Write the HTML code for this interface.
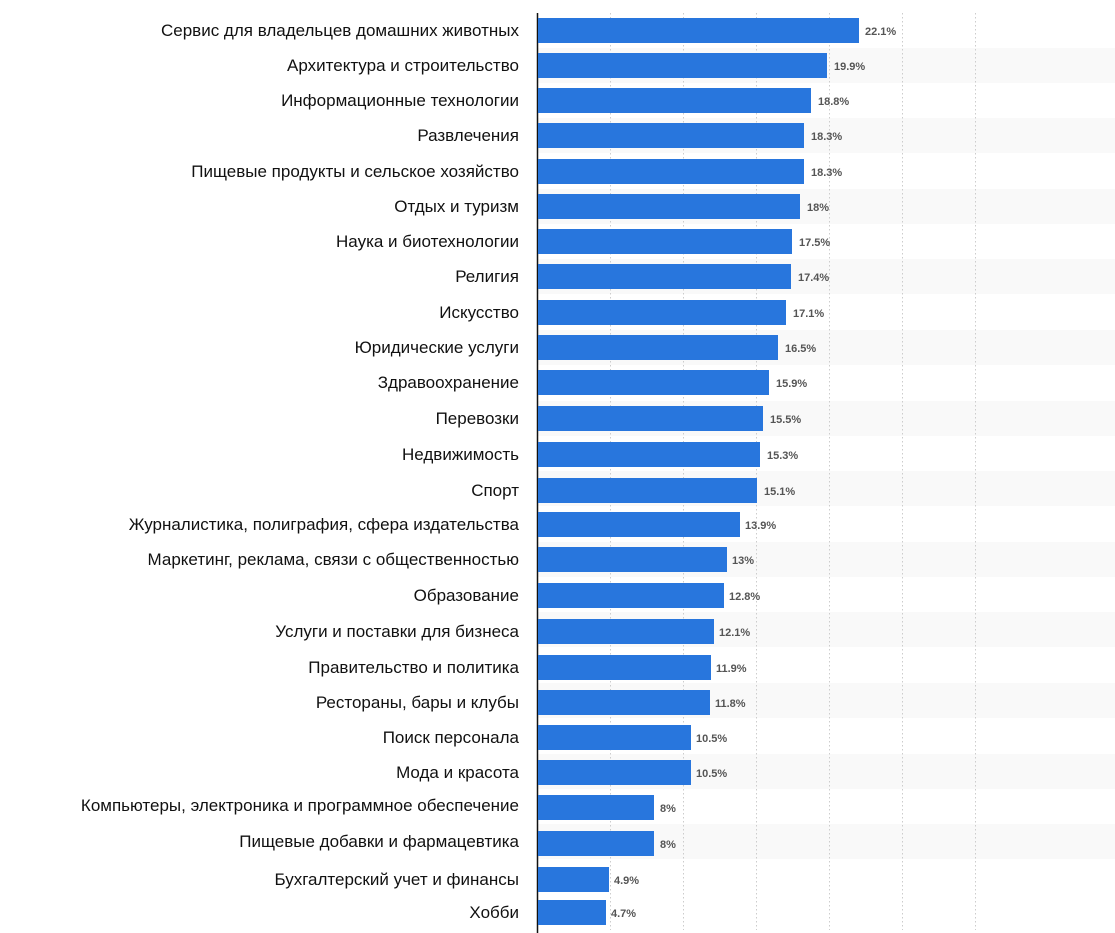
<!DOCTYPE html>
<html><head><meta charset="utf-8"><style>
body{margin:0;background:#fff;width:1115px;height:933px;overflow:hidden}
svg{display:block}
.l{font-family:"Liberation Sans","Noto Sans CJK SC",sans-serif;font-size:17px;fill:#111;text-anchor:end}
.v{font-family:"Liberation Sans",sans-serif;font-size:11px;font-weight:bold;fill:#555}
</style></head><body>
<svg width="1115" height="933" xmlns="http://www.w3.org/2000/svg">
<g fill="#f9f9f9">
<rect x="538" y="48" width="577" height="35"/><rect x="538" y="118" width="577" height="35"/><rect x="538" y="189" width="577" height="35"/><rect x="538" y="259" width="577" height="35"/><rect x="538" y="330" width="577" height="35"/><rect x="538" y="401" width="577" height="35"/><rect x="538" y="471" width="577" height="35"/><rect x="538" y="542" width="577" height="35"/><rect x="538" y="612" width="577" height="35"/><rect x="538" y="683" width="577" height="35"/><rect x="538" y="754" width="577" height="35"/><rect x="538" y="824" width="577" height="35"/>
</g>
<g stroke="#cccccc" stroke-dasharray="1.5,2.5" stroke-width="1">
<line x1="610.5" y1="13" x2="610.5" y2="930"/><line x1="683.5" y1="13" x2="683.5" y2="930"/><line x1="756.5" y1="13" x2="756.5" y2="930"/><line x1="829.5" y1="13" x2="829.5" y2="930"/><line x1="902.5" y1="13" x2="902.5" y2="930"/><line x1="975.5" y1="13" x2="975.5" y2="930"/>
</g>
<line x1="537.5" y1="13" x2="537.5" y2="933" stroke="#111" stroke-width="1.5"/>
<g fill="#2876dd">
<rect x="538" y="18" width="321" height="25"/>
<rect x="538" y="53" width="289" height="25"/>
<rect x="538" y="88" width="273" height="25"/>
<rect x="538" y="123" width="266" height="25"/>
<rect x="538" y="159" width="266" height="25"/>
<rect x="538" y="194" width="262" height="25"/>
<rect x="538" y="229" width="254" height="25"/>
<rect x="538" y="264" width="253" height="25"/>
<rect x="538" y="300" width="248" height="25"/>
<rect x="538" y="335" width="240" height="25"/>
<rect x="538" y="370" width="231" height="25"/>
<rect x="538" y="406" width="225" height="25"/>
<rect x="538" y="442" width="222" height="25"/>
<rect x="538" y="478" width="219" height="25"/>
<rect x="538" y="512" width="202" height="25"/>
<rect x="538" y="547" width="189" height="25"/>
<rect x="538" y="583" width="186" height="25"/>
<rect x="538" y="619" width="176" height="25"/>
<rect x="538" y="655" width="173" height="25"/>
<rect x="538" y="690" width="172" height="25"/>
<rect x="538" y="725" width="153" height="25"/>
<rect x="538" y="760" width="153" height="25"/>
<rect x="538" y="795" width="116" height="25"/>
<rect x="538" y="831" width="116" height="25"/>
<rect x="538" y="867" width="71" height="25"/>
<rect x="538" y="900" width="68" height="25"/>
</g>
<g class="v">
<text x="865" y="35">22.1%</text><text x="834" y="70">19.9%</text><text x="818" y="105">18.8%</text><text x="811" y="140">18.3%</text><text x="811" y="176">18.3%</text><text x="807" y="211">18%</text><text x="799" y="246">17.5%</text><text x="798" y="281">17.4%</text><text x="793" y="317">17.1%</text><text x="785" y="352">16.5%</text><text x="776" y="387">15.9%</text><text x="770" y="423">15.5%</text><text x="767" y="459">15.3%</text><text x="764" y="495">15.1%</text><text x="745" y="529">13.9%</text><text x="732" y="564">13%</text><text x="729" y="600">12.8%</text><text x="719" y="636">12.1%</text><text x="716" y="672">11.9%</text><text x="715" y="707">11.8%</text><text x="696" y="742">10.5%</text><text x="696" y="777">10.5%</text><text x="660" y="812">8%</text><text x="660" y="848">8%</text><text x="614" y="884">4.9%</text><text x="611" y="917">4.7%</text>
</g>
<g class="l">
<text x="519" y="36">Сервис для владельцев домашних животных</text>
<text x="519" y="71">Архитектура и строительство</text>
<text x="519" y="106">Информационные технологии</text>
<text x="519" y="141">Развлечения</text>
<text x="519" y="177">Пищевые продукты и сельское хозяйство</text>
<text x="519" y="212">Отдых и туризм</text>
<text x="519" y="247">Наука и биотехнологии</text>
<text x="519" y="282">Религия</text>
<text x="519" y="318">Искусство</text>
<text x="519" y="353">Юридические услуги</text>
<text x="519" y="388">Здравоохранение</text>
<text x="519" y="424">Перевозки</text>
<text x="519" y="460">Недвижимость</text>
<text x="519" y="496">Спорт</text>
<text x="519" y="530">Журналистика, полиграфия, сфера издательства</text>
<text x="519" y="565">Маркетинг, реклама, связи с общественностью</text>
<text x="519" y="601">Образование</text>
<text x="519" y="637">Услуги и поставки для бизнеса</text>
<text x="519" y="673">Правительство и политика</text>
<text x="519" y="708">Рестораны, бары и клубы</text>
<text x="519" y="743">Поиск персонала</text>
<text x="519" y="778">Мода и красота</text>
<text x="519" y="811">Компьютеры, электроника и программное обеспечение</text>
<text x="519" y="847">Пищевые добавки и фармацевтика</text>
<text x="519" y="885">Бухгалтерский учет и финансы</text>
<text x="519" y="918">Хобби</text>
</g>
</svg>
</body></html>
